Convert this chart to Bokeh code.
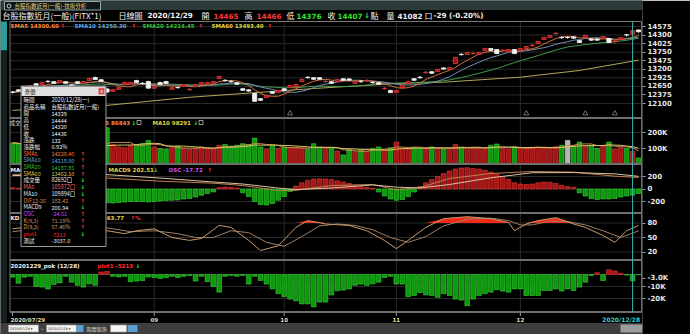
import numpy as np
import pandas as pd
from bokeh.plotting import figure
from bokeh.models import Range1d, LinearAxis, FixedTicker, ColumnDataSource
from bokeh.core.properties import value
from bokeh.embed import file_html
from bokeh.resources import INLINE

# ---------------- data ----------------
opens = [12468, 12538, 12547, 12617, 12736, 12708, 12812, 12800, 12777, 12800,
         12694, 12800, 12745, 12836, 12934, 12864, 12568, 12488, 12552, 12708,
         12708, 12837, 12748, 12806, 12589, 12773, 12805, 12557, 12619, 12649,
         12545, 12649, 12713, 12713, 12745, 12901, 12844, 12812, 12768, 12575,
         12538, 12420, 12254, 12295, 12479, 12456, 12575, 12617, 12644, 12804,
         12941, 12929, 12929, 12802, 12800, 12809, 12896, 12891, 12745, 12812,
         12834, 12780, 12768, 12577, 12521, 12456, 12612, 12740, 12896, 12941,
         13092, 13122, 13126, 13245, 13195, 13382, 13680, 13677, 13702, 13677,
         13801, 13866, 13836, 13799, 13774, 13836, 13806, 13870, 13959, 14026,
         14154, 14224, 14345, 14226, 14221, 14241, 14123, 14219, 14177, 14177,
         14191, 14190, 14088, 14159, 14309, 14329, 14465]
highs = [12500, 12560, 12640, 12700, 12760, 12800, 12850, 12820, 12860, 12815,
         12720, 12815, 12830, 12930, 12960, 12880, 12600, 12570, 12630, 12800,
         12795, 12860, 12790, 12830, 12660, 12800, 12830, 12630, 12650, 12730,
         12590, 12730, 12790, 12795, 12830, 12990, 12880, 12850, 12790, 12600,
         12560, 12440, 12270, 12380, 12500, 12540, 12600, 12700, 12740, 12900,
         12980, 12950, 12945, 12850, 12820, 12890, 12910, 12905, 12830, 12850,
         12880, 12815, 12790, 12620, 12540, 12535, 12700, 12830, 12910, 12980,
         13140, 13140, 13220, 13260, 13270, 13600, 13720, 13750, 13750, 13760,
         13890, 13880, 13850, 13845, 13850, 13850, 13880, 13950, 14010, 14110,
         14240, 14300, 14390, 14260, 14260, 14255, 14140, 14300, 14190, 14190,
         14270, 14210, 14150, 14240, 14330, 14444, 14466]
lows = [12425, 12480, 12530, 12600, 12670, 12690, 12770, 12740, 12760, 12735,
        12650, 12735, 12730, 12820, 12860, 12800, 12440, 12470, 12540, 12690,
        12695, 12760, 12700, 12580, 12570, 12700, 12730, 12540, 12580, 12630,
        12510, 12630, 12700, 12700, 12730, 12880, 12800, 12770, 12700, 12500,
        12480, 12150, 12180, 12280, 12410, 12440, 12510, 12600, 12630, 12790,
        12900, 12860, 12860, 12770, 12730, 12790, 12830, 12835, 12730, 12770,
        12800, 12740, 12700, 12540, 12430, 12440, 12600, 12720, 12830, 12900,
        13060, 13050, 13110, 13190, 13180, 13370, 13640, 13660, 13670, 13660,
        13790, 13790, 13690, 13770, 13760, 13690, 13790, 13850, 13930, 14010,
        14140, 14210, 14310, 14180, 14180, 14185, 14050, 14200, 14120, 14120,
        14180, 14040, 14040, 14150, 14250, 14320, 14376]
closes = [12458, 12498, 12617, 12677, 12686, 12778, 12802, 12750, 12837, 12750,
          12664, 12750, 12805, 12906, 12874, 12814, 12468, 12548, 12612, 12778,
          12778, 12777, 12738, 12594, 12639, 12713, 12745, 12607, 12609, 12709,
          12555, 12709, 12773, 12773, 12805, 12971, 12834, 12802, 12718, 12525,
          12498, 12170, 12204, 12355, 12429, 12516, 12525, 12677, 12714, 12874,
          12931, 12879, 12879, 12812, 12750, 12869, 12846, 12851, 12805, 12802,
          12844, 12770, 12718, 12587, 12451, 12516, 12682, 12810, 12846, 12931,
          13102, 13072, 13196, 13205, 13255, 13582, 13670, 13737, 13712, 13737,
          13871, 13806, 13706, 13809, 13834, 13706, 13866, 13930, 13969, 14096,
          14224, 14284, 14355, 14216, 14221, 14201, 14063, 14289, 14137, 14137,
          14251, 14060, 14098, 14219, 14304, 14436, 14407]
volume = [135000, 130000, 110000, 115000, 120000, 105000, 100000, 110000, 95000, 100000,
          115000, 100000, 95000, 110000, 105000, 120000, 230000, 125000, 110000, 105000,
          118000, 125000, 130000, 150000, 110000, 100000, 95000, 105000, 115000, 100000,
          95000, 100000, 110000, 105000, 98000, 120000, 125000, 115000, 120000, 130000,
          125000, 165000, 110000, 95000, 120000, 100000, 110000, 105000, 100000, 102000,
          95000, 130000, 110000, 100000, 105000, 85000, 60000, 95000, 80000, 90000,
          85000, 100000, 110000, 90000, 105000, 140000, 100000, 95000, 105000, 100000,
          98000, 110000, 100000, 95000, 100000, 125000, 110000, 105000, 100000, 102000,
          98000, 120000, 128000, 100000, 95000, 110000, 100000, 105000, 108000, 110000,
          102000, 100000, 112000, 120000, 150000, 118000, 140000, 115000, 120000, 100000,
          115000, 140000, 95000, 105000, 100000, 82692, 41082]
osc = [5, 3, 0, -3, -6, -8, -10, -12, -10, -12,
       -15, -17, -18, -16, -14, -20, -55, -56, -54, -52,
       -50, -50, -50, -52, -50, -48, -46, -45, -44, -40,
       -38, -32, -25, -18, -12, 6, 8, 7, 4, -15,
       -30, -50, -62, -64, -58, -45, -30, -10, 12, 25,
       35, 40, 41, 40, 38, 33, 28, 22, 15, 10,
       6, 3, -12, -28, -40, -45, -42, -30, -12, 10,
       25, 38, 50, 62, 72, 80, 84, 85, 82, 80,
       75, 68, 60, 50, 38, 25, 20, 18, 20, 25,
       28, 27, 22, 15, 10, 7, -15, -28, -38, -42,
       -40, -40, -38, -32, -28, -24.51, -17.72]
dif_idx = [0, 8, 16, 25, 34, 39, 45, 48, 54, 61, 65, 69, 74, 81, 88, 95, 102, 106]
dif_val = [235, 240, 175, 125, 93, 56, -24, -20, 56, 72, -13, 24, 168, 248, 280, 270, 205, 184.8]
macd_idx = [0, 8, 16, 25, 34, 39, 45, 48, 54, 61, 65, 69, 74, 81, 88, 95, 102, 106]
macd_val = [215, 225, 230, 175, 112, 80, 15, -10, 16, 65, 30, 16, 72, 180, 260, 263, 242, 202.51]
k_idx = [0, 4, 8, 12, 14, 16, 19, 21, 24, 27, 30, 32, 35, 37, 40, 42, 45, 48, 50, 53,
         57, 60, 63, 65, 67, 70, 73, 77, 81, 84, 85, 87, 89, 92, 95, 97, 100, 102, 104, 106]
k_val = [68, 74, 78, 72, 80, 64, 58, 64, 68, 50, 44, 48, 75, 71, 44, 23, 33, 71, 85, 78,
         75, 64, 44, 27, 44, 71, 89, 93, 89, 81, 64, 78, 85, 91, 78, 71, 54, 40, 64, 75]
d_idx = [0, 4, 8, 12, 16, 20, 24, 28, 31, 34, 37, 40, 43, 46, 49, 52, 55, 58, 61, 64,
         67, 70, 73, 77, 81, 84, 86, 88, 91, 94, 97, 100, 103, 106]
d_val = [62, 68, 73, 74, 70, 62, 64, 58, 50, 50, 64, 60, 40, 32, 52, 74, 78, 75, 66, 50,
         40, 52, 74, 88, 90, 85, 76, 76, 84, 83, 76, 64, 50, 63.77]
pok = [-2200, -7200, -2200, -1500, -10000, -10500, -12000, -8300, -7000, -1500,
       -6400, -9000, -10500, -7800, -9000, 2000, 2500, -1500, -2000, -1500,
       -6000, -5500, -5000, -2000, -2500, -3300, -2500, -1500, -2500, -1500,
       -800, -5500, -1500, -6000, -10000, -14700, -1500, -800, -1500, -800,
       -8000, -1500, -5000, -8000, -12000, -16000, -18500, -20500, -22000, -24500,
       -24500, -27000, -23000, -23000, -17000, -13500, -13000, -12000, -9000, -8000,
       -9000, -7800, -6400, -2500, -1500, -8000, -8000, -18500, -17500, -15000,
       -17000, -17500, -19000, -16000, -17500, -20500, -21300, -26000, -20500, -17500,
       -16000, -14700, -12700, -13800, -14700, -12000, -12000, -17500, -17500, -17500,
       -13300, -13300, -12000, -13800, -12000, -13300, -10500, -6400, -800, 1500,
       -5000, 4000, 3000, 1000, -500, -5213, 0]
sma60_idx = [0, 16, 30, 51, 65, 73, 86, 96, 106]
sma60_val = [11880, 12040, 12300, 12582, 12743, 12785, 12946, 13161, 13493.4]
signal_idx = [47, 87, 97, 102]
month_idx = [0, 24, 46, 65, 86]
month_labels = ["2020/07/29", "09", "10", "11", "12"]
cursor_idx = 105
cursor_label = "2020/12/28"

price_ticks = [14575, 14300, 14025, 13750, 13475, 13200, 12925, 12650, 12375, 12100]
vol_ticks = [200000, 100000]
vol_labels = ["200K", "100K"]
macd_ticks = [200, 0, -200]
kd_ticks = [80, 50, 20]
pok_ticks = [-3037, -10000, -20000]
pok_labels = ["-3.0K", "-10K", "-20K"]

tip_labels = ["時間", "商品名稱", "開", "高", "低", "收", "漲跌", "漲跌幅", "SMA5", "SMA10", "SMA20",
              "SMA60", "成交量", "MA5", "MA10", "DIF12-26", "MACD9", "OSC", "K(9,3)", "D(9,3)", "plot1", "測試"]
tip_values = ["2020/12/28(一)", "台股指數近月(一般)", "14329", "14444", "14320", "14436", "132", "0.92%",
              "14228.40", "14218.00", "14187.85", "13462.10", "82692口", "105872口", "109894口",
              "182.42", "206.94", "-24.51", "71.19%", "57.46%", "-5213", "-3037.0"]
tip_arrows = ["", "", "", "", "", "", "", "", "↑", "↑", "↑", "↑", "↓", "↓", "↓", "↑", "↓", "↑", "↑", "↑", "↓", ""]

N = len(closes)
for arr in (opens, highs, lows, volume, osc, pok):
    assert len(arr) == N
assert len(k_idx) == len(k_val) and len(d_idx) == len(d_val)
idx = np.arange(N)

# ---------------- colours ----------------
RED_F, RED_L = "#a81414", "#e03a3a"
GRN_F, GRN_L = "#0c9a0c", "#3ad03a"
WHITE = "#f2f2f2"
GRID = "#2a2a2a"
SEP = "#6e6e6e"
CYAN = "#3cd0d0"
CJK = "Noto Sans CJK TC"
LAT = "DejaVu Sans"

# ---------------- layout / scales ----------------
W, H = 690, 334
AXW = 48
FW = W - AXW
X0PX, X1PX = 12, 638
pw = (X1PX - X0PX) / (N - 1)


def vrange(v1, y1, v2, y2):
    s = (v1 - v2) / (y2 - y1)
    rng = Range1d(start=v1 - (H - y1) * s, end=v1 + y1 * s)
    return rng, (lambda v: y1 + (v1 - v) / s)


r_price, px_price = vrange(14575, 26, 12100, 103)
r_vol, px_vol = vrange(0, 164, 100000, 148)
r_macd, px_macd = vrange(0, 188.5, 200, 176)
r_osc, _ = vrange(0, 188.5, 50, 176)
r_kd, px_kd = vrange(50, 237, 80, 222.5)
r_pok, px_pok = vrange(0, 274, -10000, 286)

p = figure(width=W, height=H,
           x_range=Range1d(-X0PX / pw, (N - 1) + (FW - X1PX) / pw),
           y_range=Range1d(H, 0),
           output_backend="svg", toolbar_location=None,
           x_axis_location=None, y_axis_location=None,
           min_border=0, min_border_left=0, min_border_top=0, min_border_bottom=0,
           min_border_right=AXW,
           background_fill_color="black", border_fill_color="black",
           outline_line_color=None)
p.xgrid.visible = False
p.ygrid.visible = False
p.extra_x_ranges = {"px": Range1d(0, FW)}
p.extra_y_ranges = {"price": r_price, "vol": r_vol, "macd": r_macd, "osc": r_osc,
                    "kd": r_kd, "pok": r_pok}

# right axis (pixel range, labels from each panel's scale)
ticks, overrides = [], {}
for tv, lab, fn in ([(v, str(v), px_price) for v in price_ticks] +
                    [(v, l, px_vol) for v, l in zip(vol_ticks, vol_labels)] +
                    [(v, str(v), px_macd) for v in macd_ticks] +
                    [(v, str(v), px_kd) for v in kd_ticks] +
                    [(v, l, px_pok) for v, l in zip(pok_ticks, pok_labels)]):
    y = round(fn(tv), 1)
    ticks.append(y)
    overrides[y] = lab
ax = LinearAxis(ticker=FixedTicker(ticks=ticks), major_label_overrides=overrides)
ax.axis_line_color = None
ax.major_tick_line_color = "#9a9a9a"
ax.major_tick_out = 3
ax.major_tick_in = 0
ax.minor_tick_out = 0
ax.minor_tick_in = 0
ax.major_label_standoff = 2
ax.major_label_text_font = LAT
ax.major_label_text_font_size = "7px"
ax.major_label_text_font_style = "bold"
ax.major_label_text_color = "#e6e6e6"
p.add_layout(ax, "right")


def put_text(items, font, size, style="normal", align="left", rng="px"):
    src = ColumnDataSource(dict(x=[i[0] for i in items], y=[i[1] for i in items],
                                text=[i[2] for i in items], color=[i[3] for i in items]))
    p.text(x="x", y="y", text="text", source=src, x_range_name=rng,
           text_color="color", text_font=value(font), text_font_size=value(size),
           text_font_style=style, text_align=align, text_baseline="middle")


# ---------------- window chrome ----------------
p.quad(left=0, right=FW, top=0, bottom=9.5, x_range_name="px", fill_color="#2c3a3a", line_color=None)
p.quad(left=4, right=100, top=1, bottom=9.5, x_range_name="px", fill_color="#0e1616", line_color="#8fa8a8")
put_text([(14, 5.5, "台股指數近月(一般)-技術分析", "#e6cf78")], CJK, "5.5px")
p.scatter(x=[8.5], y=[5.5], x_range_name="px", marker="circle", size=4, fill_color=None, line_color="#d0d0d0")
p.quad(left=0, right=6.5, top=21, bottom=50, x_range_name="px", fill_color="#2a9d9d", line_color=None)
p.quad(left=0, right=6.5, top=50, bottom=322, x_range_name="px", fill_color="#142020", line_color=None)

# ---------------- grids ----------------
gx0, gx1 = 9.5, 641
for rn, tv in (("price", price_ticks), ("vol", vol_ticks), ("macd", macd_ticks),
               ("kd", kd_ticks), ("pok", [0, -10000, -20000])):
    p.segment(x0=[gx0] * len(tv), x1=[gx1] * len(tv), y0=tv, y1=tv,
              x_range_name="px", y_range_name=rn, line_color=GRID, line_width=1)
p.segment(x0=month_idx[1:], x1=month_idx[1:], y0=21, y1=311, line_color=GRID, line_width=1)

# ---------------- panel 1: candles ----------------
cl = pd.Series(closes, dtype=float)
sma5 = cl.rolling(5, min_periods=1).mean()
sma10 = cl.rolling(10, min_periods=1).mean()
sma20 = cl.rolling(20, min_periods=1).mean()
p.line(sma60_idx, sma60_val, y_range_name="price", line_color="#b3a65a", line_width=1)
p.line(idx, sma20, y_range_name="price", line_color="#3e9a4c", line_width=1)
p.line(idx, sma10, y_range_name="price", line_color="#6f8fb3", line_width=1)
p.line(idx, sma5, y_range_name="price", line_color="#d0743f", line_width=1)

o = np.array(opens, float)
c = np.array(closes, float)
up = c > o
cfill = [RED_F if u else WHITE for u in up]
cline = [RED_L if u else WHITE for u in up]
csrc = ColumnDataSource(dict(x=idx, top=np.maximum(o, c), bottom=np.minimum(o, c),
                             hi=highs, lo=lows, fill=cfill, line=cline))
p.segment(x0="x", x1="x", y0="lo", y1="hi", source=csrc, y_range_name="price",
          line_color="line", line_width=1)
p.vbar(x="x", width=0.72, top="top", bottom="bottom", source=csrc, y_range_name="price",
       fill_color="fill", line_color="line", line_width=0.8)
p.scatter(x=signal_idx, y=[113] * len(signal_idx), marker="triangle", size=5,
          fill_color=None, line_color="#8a8a8a", line_width=0.8)

# ---------------- panel 2: volume ----------------
vfill = [RED_F if c[i] > o[i] else (GRN_F if c[i] < o[i] else "#b4b4b4") for i in idx]
vline = [RED_L if c[i] > o[i] else (GRN_L if c[i] < o[i] else "#d8d8d8") for i in idx]
vs = pd.Series(volume, dtype=float)
p.vbar(x=idx, width=0.78, top=volume, bottom=0, y_range_name="vol",
       fill_color=vfill, line_color=vline, line_width=0.6)
p.line(idx, vs.rolling(5, min_periods=1).mean(), y_range_name="vol", line_color="#c98a4c", line_width=1)
p.line(idx, vs.rolling(10, min_periods=1).mean(), y_range_name="vol", line_color="#d7c565", line_width=1)

# ---------------- panel 3: MACD ----------------
ofill = [RED_F if v > 0 else GRN_F for v in osc]
oline = [RED_L if v > 0 else GRN_L for v in osc]
p.vbar(x=idx, width=0.78, top=osc, bottom=0, y_range_name="osc",
       fill_color=ofill, line_color=oline, line_width=0.6)
p.line(dif_idx, dif_val, y_range_name="macd", line_color="#c08050", line_width=1)
p.line(macd_idx, macd_val, y_range_name="macd", line_color="#d9c3a0", line_width=1)

# ---------------- panel 4: KD ----------------
kv = np.array(k_val, float)
p.varea(x=k_idx, y1=[80] * len(k_idx), y2=np.maximum(kv, 80), y_range_name="kd",
        fill_color="#ff2a1a", fill_alpha=0.95)
p.line(d_idx, d_val, y_range_name="kd", line_color="#a07e62", line_width=1)
p.line(k_idx, k_val, y_range_name="kd", line_color="#c89a6a", line_width=1)

# ---------------- panel 5: pok ----------------
pfill = [RED_F if v > 0 else GRN_F for v in pok]
pline = [RED_L if v > 0 else GRN_L for v in pok]
p.vbar(x=idx, width=0.8, top=pok, bottom=0, y_range_name="pok",
       fill_color=pfill, line_color=pline, line_width=0.6)

# ---------------- separators / frame ----------------
p.segment(x0=[gx0], x1=[gx1], y0=[21], y1=[21], x_range_name="px", line_color="#7a7a7a", line_width=1)
sy = [117.5, 163.5, 212.5, 259.5, 311.5]
p.segment(x0=[gx0] * 5, x1=[gx1] * 5, y0=sy, y1=sy, x_range_name="px", line_color=SEP, line_width=2)
p.segment(x0=[gx0, gx1], x1=[gx0, gx1], y0=[21, 21], y1=[312, 312], x_range_name="px",
          line_color=SEP, line_width=1)
p.segment(x0=[cursor_idx], x1=[cursor_idx], y0=[21], y1=[312], line_color="#3cb4b4", line_width=1)

# ---------------- header texts ----------------
put_text([(2, 15, "台股指數近月(一般)(FITX*1)", WHITE), (118, 15, "日線圖", WHITE),
          (201, 15, "開", WHITE), (244, 15, "高", WHITE), (286, 15, "低", WHITE),
          (327, 15, "收", WHITE), (370, 15, "點", WHITE), (386, 15, "量", WHITE),
          (424, 15, "口", WHITE)], CJK, "8px")
put_text([(147, 15, "2020/12/29", WHITE), (213, 15, "14465", "#ff3434"),
          (256, 15, "14466", "#ff3434"), (296, 15, "14376", "#2fe02f"),
          (337, 15, "14407", "#2fe02f"), (363.5, 15, "↓", "#2fe02f"),
          (397, 15, "41082", WHITE), (433, 15, "-29 (-0.20%)", WHITE)], LAT, "7.2px", "bold")
put_text([(10, 25.5, "SMA5 14300.60", "#ff8a3c"), (60, 25.5, "↑", "#ff3030"),
          (74, 25.5, "SMA10 14250.30", "#5aaae6"), (131, 25.5, "↑", "#ff3030"),
          (142, 25.5, "SMA20 14214.45", "#34c234"), (198, 25.5, "↑", "#ff3030"),
          (211, 25.5, "SMA60 13493.40", "#e6d246"), (267, 25.5, "↑", "#ff3030")],
         LAT, "5.5px", "bold")
put_text([(9, 122, "成交量", "#dcdcdc")], CJK, "5.5px")
put_text([(30, 122, "41082口", "#dcdcdc"), (95, 122, "MA5 86843", "#ff8a3c"), (131, 122, "↓", "#2fe02f"),
          (152, 122, "MA10 98291", "#e6d246"), (193, 122, "↓", "#2fe02f"),
          (10, 169.5, "MACD", WHITE), (35, 169.5, "DIF12-26 184.79", "#c08050"),
          (108, 169.5, "MACD9 202.51", "#e6d246"), (153, 169.5, "↓", "#2fe02f"),
          (168, 169.5, "OSC -17.72", "#d050ff"), (207, 169.5, "↑", "#ff3030"),
          (10, 217, "KD", WHITE), (25, 217, "K(9,3) 75.02%", "#e6d246"),
          (85, 217, "D(9,3) 63.77", "#e6d246"), (130, 217, "↑%", "#ff3030"),
          (10, 265, "20201229_pok (12/28)", WHITE), (97, 265, "plot1 -5213", "#ff2a2a"),
          (135, 265, "↓", "#2fe02f")], LAT, "5.5px", "bold")
p.quad(left=[136.5, 198.5], right=[140.5, 202.5], top=[120, 120], bottom=[124, 124],
       x_range_name="px", fill_color=None, line_color="#dcdcdc", line_width=0.7)

# ---------------- x labels ----------------
xsrc = ColumnDataSource(dict(x=month_idx[1:], y=[319] * 4, text=month_labels[1:]))
p.text(x="x", y="y", text="text", source=xsrc, text_color="#e2dcae", text_font=value(LAT),
       text_font_size=value("5.5px"), text_font_style="bold", text_align="center", text_baseline="middle")
p.text(x=[month_idx[0]], y=[319], text=[month_labels[0]], x_offset=-2, text_color="#e2dcae",
       text_font=value(LAT), text_font_size=value("5.5px"), text_font_style="bold",
       text_align="left", text_baseline="middle")
p.text(x=[cursor_idx], y=[319], text=[cursor_label], x_offset=7.5, text_color=CYAN,
       text_font=value(LAT), text_font_size=value("6px"), text_font_style="bold",
       text_align="right", text_baseline="middle")
p.segment(x0=month_idx, x1=month_idx, y0=312, y1=315.5, line_color="#9a9a9a", line_width=1)

# ---------------- bottom bar ----------------
p.quad(left=0, right=FW, top=322.5, bottom=334, x_range_name="px", fill_color="#3e3e3e", line_color=None)
p.quad(left=[8, 46, 110], right=[38, 76, 126], top=[324.5] * 3, bottom=[331.5] * 3,
       x_range_name="px", fill_color="#f4f4f4", line_color="#9a9a9a", line_width=0.6)
p.quad(left=[76, 127], right=[83, 137], top=[324.5] * 2, bottom=[331.5] * 2,
       x_range_name="px", fill_color="#5a9fd0", line_color=None)
p.quad(left=[620], right=[FW], top=[324], bottom=[332], x_range_name="px",
       fill_color="#9c9c9c", line_color=None)
put_text([(9, 328, "2020/07/29 ▾", "#202020"), (47, 328, "2020/12/29 ▾", "#202020")], LAT, "3.5px")
put_text([(40, 328, "~", WHITE), (86, 328, "區間查詢", "#e0e0e0")], CJK, "5px")

# ---------------- tooltip window ----------------
p.quad(left=20.5, right=105.5, top=85.5, bottom=246, x_range_name="px",
       fill_color="black", line_color="#9a9a9a", line_width=1)
p.quad(left=21, right=105, top=86, bottom=95.5, x_range_name="px",
       fill_color="#dedede", line_color=None)
p.quad(left=98, right=104, top=87.5, bottom=94, x_range_name="px",
       fill_color="#d04040", line_color="#f0a0a0", line_width=0.6)
put_text([(24, 91, "查價", "#202020")], CJK, "5.5px")
put_text([(101, 90.8, "×", WHITE)], LAT, "5px", "bold", "center")
row_colors = [WHITE] * 8 + ["#ff7a3c", "#5aaae6", "#34c234", "#d8d050", "#e8e8e8", "#ff6a6a",
                            "#e8e8e8", "#c88a5a", "#e8e8e8", "#c050ff", "#c8906a", "#c8a070",
                            "#ff2a2a", "#e8e8e8"]
rows_y = [99.5 + 6.7 * k for k in range(len(tip_labels))]
put_text([(23, y, t, col) for y, t, col in zip(rows_y, tip_labels, row_colors)], CJK, "5.5px")
put_text([(51, y, t, col) for y, t, col in zip(rows_y, tip_values, row_colors)], CJK, "5.5px")
put_text([(80, y, a, "#ff3030" if a == "↑" else "#2fe02f")
          for y, a in zip(rows_y, tip_arrows) if a], LAT, "5.5px", "bold")

open("out.html", "w").write(file_html(p, INLINE))
